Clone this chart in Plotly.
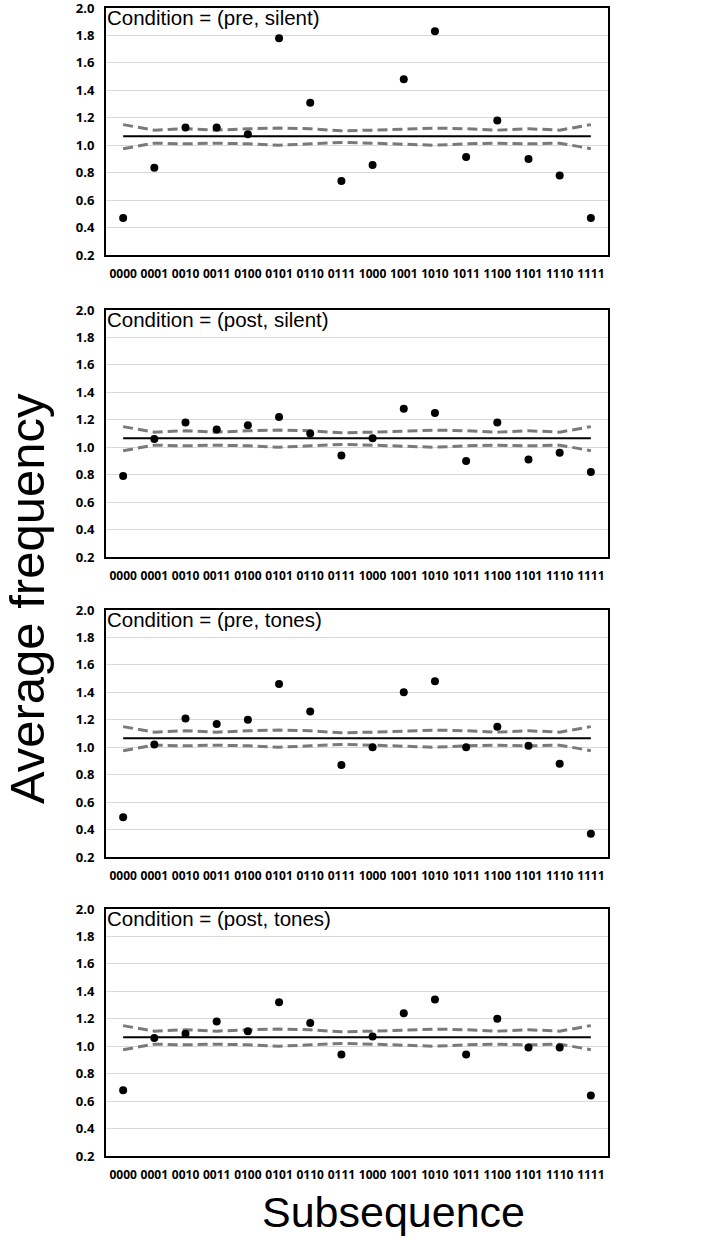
import plotly.graph_objects as go

# data
subseq = ['0000', '0001', '0010', '0011', '0100', '0101', '0110', '0111',
          '1000', '1001', '1010', '1011', '1100', '1101', '1110', '1111']

conditions = ['Condition = (pre, silent)', 'Condition = (post, silent)',
              'Condition = (pre, tones)', 'Condition = (post, tones)']

pre_silent = [0.47, 0.835, 1.13, 1.13, 1.08, 1.78, 1.31, 0.74,
              0.855, 1.48, 1.83, 0.915, 1.18, 0.90, 0.78, 0.47]
post_silent = [0.79, 1.06, 1.18, 1.13, 1.16, 1.22, 1.10, 0.94,
               1.065, 1.28, 1.25, 0.90, 1.18, 0.91, 0.96, 0.82]
pre_tones = [0.49, 1.02, 1.21, 1.17, 1.20, 1.46, 1.26, 0.87,
             1.00, 1.40, 1.48, 1.00, 1.15, 1.01, 0.88, 0.37]
post_tones = [0.68, 1.06, 1.09, 1.18, 1.11, 1.32, 1.17, 0.94,
              1.07, 1.24, 1.34, 0.94, 1.20, 0.99, 0.99, 0.64]

mean_freq = 1.065
upper_band = [1.15, 1.11, 1.12, 1.11, 1.12, 1.125, 1.12, 1.105,
              1.11, 1.12, 1.125, 1.12, 1.11, 1.12, 1.11, 1.15]
lower_band = [0.975, 1.015, 1.01, 1.015, 1.01, 1.0, 1.01, 1.02,
              1.015, 1.01, 1.0, 1.01, 1.015, 1.01, 1.015, 0.975]

y_ticks = [0.2, 0.4, 0.6, 0.8, 1.0, 1.2, 1.4, 1.6, 1.8, 2.0]

series = [pre_silent, post_silent, pre_tones, post_tones]

W, H = 707, 1240
# panel top/bottom in pixels
panels_px = [(8, 255), (310, 557), (610, 857), (909, 1156)]

fig = go.Figure()
xtickfont = dict(family='Open Sans', size=12, color='black', weight='bold')
ytickfont = dict(family='Open Sans', size=13, color='black', weight='bold')

for i, vals in enumerate(series):
    n = '' if i == 0 else str(i + 1)
    xa, ya = 'x' + n, 'y' + n
    top, bot = panels_px[i]
    dom = [1 - bot / H, 1 - top / H]

    fig.add_trace(go.Scatter(x=subseq, y=upper_band, mode='lines', xaxis=xa, yaxis=ya,
                             line=dict(color='#7a7a7a', width=3, dash='10px,5px'),
                             showlegend=False, hoverinfo='skip'))
    fig.add_trace(go.Scatter(x=subseq, y=lower_band, mode='lines', xaxis=xa, yaxis=ya,
                             line=dict(color='#7a7a7a', width=3, dash='10px,5px'),
                             showlegend=False, hoverinfo='skip'))
    fig.add_trace(go.Scatter(x=subseq, y=[mean_freq] * len(subseq), mode='lines',
                             xaxis=xa, yaxis=ya, line=dict(color='black', width=2),
                             showlegend=False, hoverinfo='skip'))
    fig.add_trace(go.Scatter(x=subseq, y=vals, mode='markers', xaxis=xa, yaxis=ya,
                             marker=dict(color='black', size=8),
                             showlegend=False))

    fig.layout['xaxis' + n] = dict(
        type='category', range=[-0.55, 15.55], domain=[0, 1], anchor=ya,
        showgrid=False, showline=True, linecolor='black', linewidth=2, mirror=True,
        ticks='', tickfont=xtickfont, ticklabelstandoff=7, fixedrange=True,
        automargin=False, ticklabeloverflow='allow')
    fig.layout['yaxis' + n] = dict(
        range=[0.2, 2.0], domain=dom, anchor=xa, tickvals=y_ticks,
        ticktext=[f'{v:.1f}' for v in y_ticks],
        showgrid=True, gridcolor='#d9d9d9', gridwidth=1, zeroline=False,
        showline=True, linecolor='black', linewidth=2, mirror=True,
        ticks='', tickfont=ytickfont, ticklabelstandoff=7, fixedrange=True,
        automargin=False, ticklabeloverflow='allow')

    fig.add_annotation(text=conditions[i], xref='paper', yref='paper',
                       x=0, y=dom[1], xanchor='left', yanchor='top', showarrow=False,
                       font=dict(family='Liberation Sans', size=20.5, color='black'),
                       xshift=-1, yshift=4)

# axis titles
fig.add_annotation(text='Average frequency', xref='paper', yref='paper',
                   x=(27 - 106) / (W - 106 - 99), y=1 - 599 / H, textangle=-90,
                   xanchor='center', yanchor='middle', showarrow=False,
                   font=dict(family='Liberation Sans', size=49, color='black'))
fig.add_annotation(text='Subsequence', xref='paper', yref='paper',
                   x=(393 - 106) / (W - 106 - 99), y=1 - 1212 / H,
                   xanchor='center', yanchor='middle', showarrow=False,
                   font=dict(family='Liberation Sans', size=43, color='black'))

fig.update_layout(width=W, height=H, margin=dict(l=106, r=99, t=0, b=0),
                  plot_bgcolor='white', paper_bgcolor='white')

# drop the default page margin so the figure sits at the window's corner
fig.write_html('out.html', config={'displayModeBar': False},
               post_script="document.body.style.margin='0';")
